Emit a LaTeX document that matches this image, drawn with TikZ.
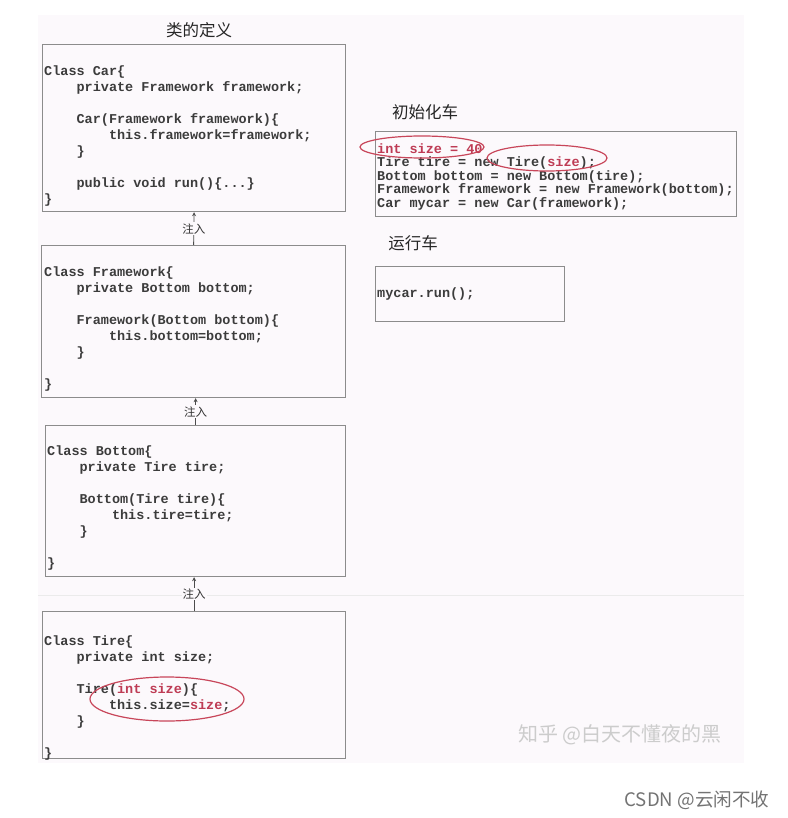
\documentclass[tikz,border=0pt]{standalone}
\usepackage{fontspec}
\setmonofont{Liberation Mono}
\newfontfamily\cjk{Noto Sans CJK SC}
\usetikzlibrary{arrows.meta}

\definecolor{bg}{RGB}{252,249,252}
\definecolor{boxgray}{RGB}{140,140,140}
\definecolor{codegray}{RGB}{60,60,60}
\definecolor{hlred}{RGB}{190,60,85}
\definecolor{markred}{RGB}{200,70,90}

\newcommand{\ind}{\hphantom{0000}}
\newcommand{\fl}{\rule{0pt}{11pt}}
\newcommand{\hl}[1]{\textcolor{hlred}{#1}}

\begin{document}
\begin{tikzpicture}[x=1pt,y=-1pt,
    box/.style={draw=boxgray,line width=1.2pt,inner sep=0pt,anchor=north west},
    code/.style={anchor=north west,inner sep=0pt,align=left,text=codegray,
      font=\ttfamily\bfseries\fontsize{13.5}{16}\selectfont},
    title/.style={inner sep=0pt,text=black!85,font=\cjk\fontsize{16.5}{20}\selectfont},
    inject/.style={draw=black!70,line width=0.8pt,-{Stealth[length=4pt,width=4pt]}},
    injlabel/.style={fill=bg,inner sep=1pt,text=black!80,font=\cjk\fontsize{11.5}{13}\selectfont},
    ring/.style={draw=markred,line width=1.2pt}]
\useasboundingbox (0,0) rectangle (787,818);
\fill[bg] (38,15) rectangle (744,763);
\draw[black!8,line width=0.8pt] (38,595) -- (744,595);

% class definitions
\node[title] (deftitle) at (199,30) {类的定义};
\node[box,minimum width=303pt,minimum height=167pt] (car) at (42,44) {};
\node[code] (carcode) at (44,64) {\fl Class Car\{\\
\ind private Framework framework;\\ \mbox{}\\
\ind Car(Framework framework)\{\\
\ind\ind this.framework=framework;\\
\ind\}\\ \mbox{}\\
\ind public void run()\{...\}\\
\}};

\node[box,minimum width=304pt,minimum height=152pt] (frame) at (41,245) {};
\node[code] (framecode) at (44,265) {\fl Class Framework\{\\
\ind private Bottom bottom;\\ \mbox{}\\
\ind Framework(Bottom bottom)\{\\
\ind\ind this.bottom=bottom;\\
\ind\}\\ \mbox{}\\
\}};

\node[box,minimum width=300pt,minimum height=151pt] (bottom) at (45,425) {};
\node[code] (bottomcode) at (47,444) {\fl Class Bottom\{\\
\ind private Tire tire;\\ \mbox{}\\
\ind Bottom(Tire tire)\{\\
\ind\ind this.tire=tire;\\
\ind\}\\ \mbox{}\\
\}};

\node[box,minimum width=303pt,minimum height=147pt] (tire) at (42,611) {};
\node[code] (tirecode) at (44,634) {\fl Class Tire\{\\
\ind private int size;\\ \mbox{}\\
\ind Tire(\hl{int size})\{\\
\ind\ind this.size=\hl{size};\\
\ind\}\\ \mbox{}\\
\}};

\draw[inject] (frame.north) -- (car.south) node[injlabel,midway] (inj1) {注入};
\draw[inject] (bottom.north) -- (bottom.north |- frame.south) node[injlabel,midway] (inj2) {注入};
\draw[inject] (tire.north) -- (tire.north |- bottom.south) node[injlabel,midway] (inj3) {注入};

% init and run
\node[title] (inittitle) at (425,112) {初始化车};
\node[box,minimum width=361pt,minimum height=85pt] (init) at (375,131) {};
\node[code,font=\ttfamily\bfseries\fontsize{13.5}{13.6}\selectfont] (initcode) at (377,142) {\fl\hl{int size = 40}\\
Tire tire = new Tire(\hl{size});\\
Bottom bottom = new Bottom(tire);\\
Framework framework = new Framework(bottom);\\
Car mycar = new Car(framework);};

\node[title] (runtitle) at (413,243) {运行车};
\node[box,minimum width=189pt,minimum height=55pt] (run) at (375,266) {};
\node[code] (runcode) at (377,286) {\fl mycar.run();};

\draw[ring] (422,147) ellipse [x radius=62pt,y radius=11pt];
\draw[ring] (547,158) ellipse [x radius=60pt,y radius=13pt];
\draw[ring] (167,699) ellipse [x radius=77pt,y radius=22pt];

\node[inner sep=0pt,text=black!20,font=\cjk\fontsize{20}{22}\selectfont] (zhihu) at (620,735) {知乎 @白天不懂夜的黑};
\node[inner sep=0pt,text=black!55,font=\cjk\fontsize{18.6}{22}\selectfont] (csdn) at (697,800) {CSDN @云闲不收};
\end{tikzpicture}
\end{document}
